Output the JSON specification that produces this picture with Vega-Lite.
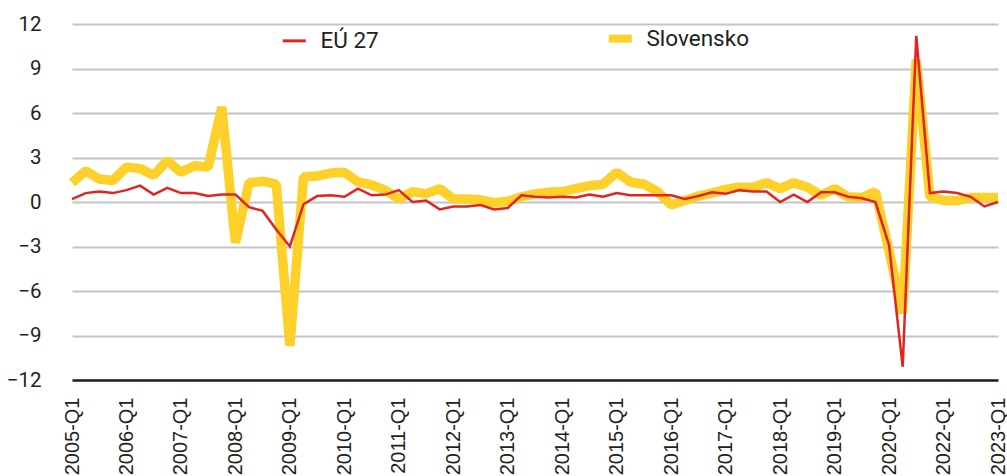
{
  "$schema": "https://vega.github.io/schema/vega-lite/v6.json",
  "autosize": {"type": "none"},
  "width": 926,
  "height": 356,
  "padding": {"left": 72, "top": 24, "right": 9, "bottom": 96},
  "background": "white",
  "config": {"view": {"stroke": null}},
  "data": {"values": [
    {"q": "2005-Q1", "eu": 0.2, "sk": 1.3},
    {"q": "2005-Q2", "eu": 0.6, "sk": 2.1},
    {"q": "2005-Q3", "eu": 0.7, "sk": 1.55},
    {"q": "2005-Q4", "eu": 0.6, "sk": 1.45},
    {"q": "2006-Q1", "eu": 0.8, "sk": 2.35},
    {"q": "2006-Q2", "eu": 1.1, "sk": 2.25},
    {"q": "2006-Q3", "eu": 0.5, "sk": 1.8},
    {"q": "2006-Q4", "eu": 0.95, "sk": 2.8},
    {"q": "2007-Q1", "eu": 0.6, "sk": 2.0},
    {"q": "2007-Q2", "eu": 0.6, "sk": 2.45},
    {"q": "2007-Q3", "eu": 0.4, "sk": 2.35},
    {"q": "2007-Q4", "eu": 0.5, "sk": 6.4},
    {"q": "2008-Q1", "eu": 0.5, "sk": -2.75},
    {"q": "2008-Q2", "eu": -0.35, "sk": 1.3},
    {"q": "2008-Q3", "eu": -0.6, "sk": 1.4},
    {"q": "2008-Q4", "eu": -1.85, "sk": 1.2},
    {"q": "2009-Q1", "eu": -3.0, "sk": -9.7},
    {"q": "2009-Q2", "eu": -0.15, "sk": 1.7},
    {"q": "2009-Q3", "eu": 0.4, "sk": 1.75},
    {"q": "2009-Q4", "eu": 0.45, "sk": 1.95},
    {"q": "2010-Q1", "eu": 0.35, "sk": 2.0},
    {"q": "2010-Q2", "eu": 0.9, "sk": 1.35},
    {"q": "2010-Q3", "eu": 0.45, "sk": 1.15},
    {"q": "2010-Q4", "eu": 0.5, "sk": 0.8},
    {"q": "2011-Q1", "eu": 0.8, "sk": 0.2},
    {"q": "2011-Q2", "eu": 0.0, "sk": 0.7},
    {"q": "2011-Q3", "eu": 0.1, "sk": 0.55},
    {"q": "2011-Q4", "eu": -0.5, "sk": 0.9},
    {"q": "2012-Q1", "eu": -0.3, "sk": 0.2},
    {"q": "2012-Q2", "eu": -0.3, "sk": 0.2},
    {"q": "2012-Q3", "eu": -0.2, "sk": 0.15},
    {"q": "2012-Q4", "eu": -0.5, "sk": -0.05},
    {"q": "2013-Q1", "eu": -0.4, "sk": 0.05},
    {"q": "2013-Q2", "eu": 0.45, "sk": 0.35},
    {"q": "2013-Q3", "eu": 0.35, "sk": 0.55},
    {"q": "2013-Q4", "eu": 0.3, "sk": 0.65},
    {"q": "2014-Q1", "eu": 0.35, "sk": 0.7},
    {"q": "2014-Q2", "eu": 0.3, "sk": 0.9},
    {"q": "2014-Q3", "eu": 0.5, "sk": 1.1},
    {"q": "2014-Q4", "eu": 0.35, "sk": 1.2},
    {"q": "2015-Q1", "eu": 0.6, "sk": 2.0},
    {"q": "2015-Q2", "eu": 0.45, "sk": 1.35},
    {"q": "2015-Q3", "eu": 0.45, "sk": 1.2},
    {"q": "2015-Q4", "eu": 0.45, "sk": 0.7},
    {"q": "2016-Q1", "eu": 0.45, "sk": -0.2},
    {"q": "2016-Q2", "eu": 0.2, "sk": 0.1},
    {"q": "2016-Q3", "eu": 0.4, "sk": 0.4},
    {"q": "2016-Q4", "eu": 0.65, "sk": 0.6},
    {"q": "2017-Q1", "eu": 0.55, "sk": 0.85},
    {"q": "2017-Q2", "eu": 0.8, "sk": 1.0},
    {"q": "2017-Q3", "eu": 0.7, "sk": 1.0},
    {"q": "2017-Q4", "eu": 0.7, "sk": 1.3},
    {"q": "2018-Q1", "eu": 0.0, "sk": 0.9},
    {"q": "2018-Q2", "eu": 0.5, "sk": 1.3},
    {"q": "2018-Q3", "eu": 0.0, "sk": 1.0},
    {"q": "2018-Q4", "eu": 0.65, "sk": 0.45},
    {"q": "2019-Q1", "eu": 0.65, "sk": 0.9},
    {"q": "2019-Q2", "eu": 0.35, "sk": 0.35},
    {"q": "2019-Q3", "eu": 0.25, "sk": 0.3},
    {"q": "2019-Q4", "eu": 0.0, "sk": 0.7},
    {"q": "2020-Q1", "eu": -2.9, "sk": -3.3},
    {"q": "2020-Q2", "eu": -11.1, "sk": -7.5},
    {"q": "2020-Q3", "eu": 11.2, "sk": 9.6},
    {"q": "2020-Q4", "eu": 0.6, "sk": 0.35},
    {"q": "2022-Q1", "eu": 0.7, "sk": 0.1},
    {"q": "2022-Q2", "eu": 0.6, "sk": 0.1},
    {"q": "2022-Q3", "eu": 0.35, "sk": 0.3},
    {"q": "2022-Q4", "eu": -0.3, "sk": 0.3},
    {"q": "2023-Q1", "eu": 0.0, "sk": 0.3}
  ]},
  "encoding": {
    "x": {
      "field": "q",
      "type": "ordinal",
      "sort": null,
      "scale": {"type": "point", "padding": 0},
      "axis": {
        "title": null,
        "labelAngle": -90,
        "labelAlign": "right",
        "labelBaseline": "middle",
        "labelExpr": "indexof(datum.value, 'Q1') >= 0 ? datum.value : ''",
        "labelFont": "Liberation Sans",
        "labelFontSize": 20,
        "labelColor": "#231f20",
        "labelPadding": 17,
        "ticks": false,
        "tickSize": 0,
        "grid": false,
        "domain": true,
        "domainColor": "#231f20",
        "domainWidth": 2.5,
        "labelOverlap": false
      }
    }
  },
  "layer": [
    {
      "mark": {"type": "line", "strokeWidth": 9.5, "strokeJoin": "bevel", "strokeCap": "butt"},
      "encoding": {
        "y": {
          "field": "sk",
          "type": "quantitative",
          "scale": {"domain": [-12, 12], "nice": false, "zero": false},
          "axis": {
            "title": null,
            "values": [-12, -9, -6, -3, 0, 3, 6, 9, 12],
            "labelFont": "Roboto",
            "labelFontSize": 20.5,
            "labelColor": "#231f20",
            "labelPadding": 31,
            "ticks": false,
            "domain": false,
            "grid": true,
            "gridColor": "#c4c4c8",
            "gridWidth": 2
          }
        },
        "color": {
          "datum": "Slovensko",
          "type": "nominal",
          "scale": {"domain": ["EÚ 27", "Slovensko"], "range": ["#e3231f", "#fdd12a"]},
          "legend": {
            "title": null,
            "orient": "none",
            "direction": "horizontal",
            "legendX": 211,
            "legendY": 3,
            "padding": 0,
            "symbolType": "stroke",
            "symbolSize": 529,
            "symbolStrokeWidth": 3,
            "labelFont": "Roboto",
            "labelFontSize": 22.5,
            "labelColor": "#231f20",
            "labelOffset": 15,
            "columnPadding": 213,
            "encode": {"symbols": {"update": {"strokeWidth": {"signal": "datum.value === 'Slovensko' ? 8 : 3"}}}}
          }
        }
      }
    },
    {
      "mark": {"type": "line", "strokeWidth": 2.5},
      "encoding": {
        "y": {"field": "eu", "type": "quantitative"},
        "color": {"datum": "EÚ 27", "type": "nominal"}
      }
    }
  ]
}
